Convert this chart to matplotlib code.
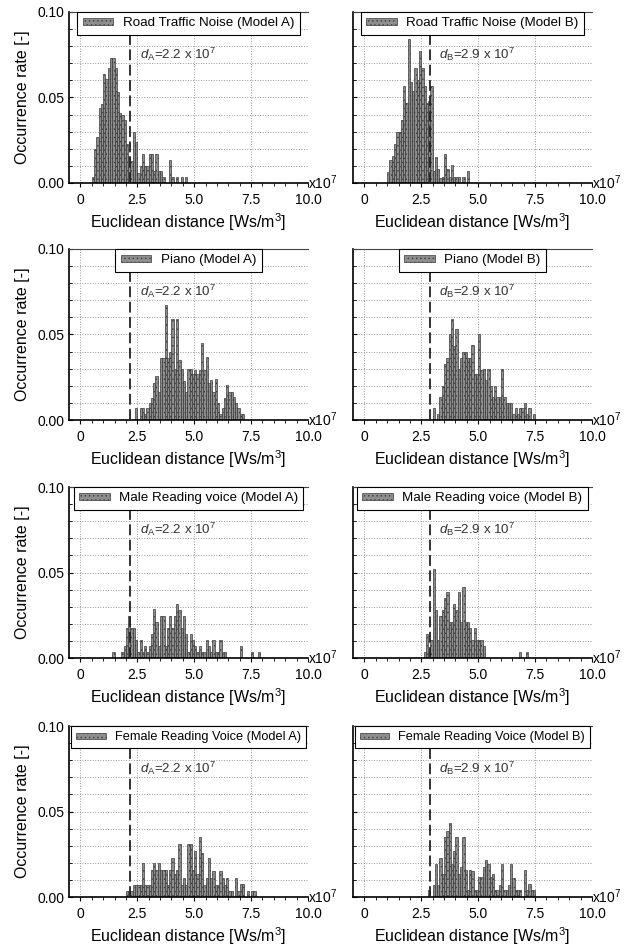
import numpy as np
import matplotlib.pyplot as plt

plt.rcParams['font.family'] = ['Liberation Sans', 'DejaVu Sans']
plt.rcParams['mathtext.fontset'] = 'custom'
plt.rcParams['mathtext.rm'] = 'Liberation Sans'
plt.rcParams['mathtext.it'] = 'Liberation Sans:italic'
plt.rcParams['hatch.linewidth'] = 0.5

BIN = 0.1      # histogram bin width [x10^7 Ws/m^3]
D_A = 2.2      # threshold distance, model A
D_B = 2.9      # threshold distance, model B

# occurrence rate per bin, first bin starts at *_start
road_a_start = 0.5
road_a = [0.0035, 0.020, 0.027, 0.044, 0.046, 0.064, 0.061, 0.067, 0.073, 0.073,
          0.067, 0.053, 0.041, 0.040, 0.037, 0.023, 0.016, 0.013, 0.030, 0.024,
          0.006, 0.010, 0.017, 0.010, 0.010, 0.017, 0.017, 0.007, 0.017, 0.007,
          0.007, 0.0035, 0.0, 0.0, 0.0135, 0.0035, 0.0, 0.0035, 0.0, 0.0035,
          0.0, 0.0035]

road_b_start = 1.0
road_b = [0.0066, 0.0135, 0.016, 0.023, 0.030, 0.030, 0.037, 0.057, 0.047, 0.084,
          0.059, 0.054, 0.067, 0.060, 0.077, 0.067, 0.057, 0.047, 0.048, 0.057,
          0.007, 0.015, 0.008, 0.003, 0.0035, 0.017, 0.008, 0.0035, 0.0105, 0.0035,
          0.0035, 0.0035, 0.0, 0.0035, 0.0, 0.007]

piano_a_start = 2.4
piano_a = [0.007, 0.0, 0.007, 0.007, 0.0035, 0.007, 0.010, 0.013, 0.0215, 0.026,
           0.0165, 0.036, 0.036, 0.067, 0.036, 0.040, 0.059, 0.030, 0.059, 0.035,
           0.030, 0.023, 0.0165, 0.030, 0.030, 0.027, 0.0295, 0.027, 0.0295, 0.045,
           0.0295, 0.037, 0.0215, 0.0235, 0.0165, 0.024, 0.010, 0.0035, 0.007, 0.013,
           0.0205, 0.0165, 0.0165, 0.0135, 0.010, 0.007, 0.0035, 0.0035]

piano_b_start = 3.0
piano_b = [0.007, 0.0, 0.0035, 0.0135, 0.020, 0.033, 0.036, 0.050, 0.059, 0.0435,
           0.053, 0.030, 0.036, 0.040, 0.040, 0.036, 0.036, 0.044, 0.027, 0.027,
           0.050, 0.0295, 0.030, 0.0235, 0.030, 0.020, 0.0135, 0.020, 0.0135, 0.0135,
           0.030, 0.0135, 0.010, 0.010, 0.010, 0.0035, 0.007, 0.0035, 0.007, 0.007,
           0.010, 0.0035, 0.007, 0.0, 0.0035]

male_a_start = 1.4
male_a = [0.0035, 0.0, 0.0, 0.0, 0.0035, 0.007, 0.0175, 0.0245, 0.0175, 0.0175,
          0.0105, 0.0035, 0.0105, 0.0035, 0.007, 0.0035, 0.007, 0.014, 0.0285, 0.021,
          0.007, 0.0245, 0.0245, 0.007, 0.0175, 0.0245, 0.0175, 0.0245, 0.0315, 0.028,
          0.0175, 0.0245, 0.014, 0.0035, 0.014, 0.0105, 0.007, 0.0035, 0.007, 0.0035,
          0.0035, 0.0105, 0.007, 0.0035, 0.0105, 0.0035, 0.0035, 0.0105, 0.0035, 0.0035,
          0.0, 0.0, 0.0, 0.0, 0.0, 0.0, 0.007, 0.0, 0.0, 0.0,
          0.0, 0.0035, 0.0, 0.0, 0.0035]

male_b_start = 2.6
male_b = [0.0035, 0.014, 0.0035, 0.0105, 0.052, 0.028, 0.0105, 0.0245, 0.028, 0.035,
          0.0385, 0.021, 0.021, 0.0315, 0.028, 0.0385, 0.021, 0.0415, 0.021, 0.021,
          0.0175, 0.0105, 0.0175, 0.0105, 0.0105, 0.0105, 0.007, 0.0, 0.0, 0.0,
          0.0, 0.0, 0.0, 0.0, 0.0, 0.0, 0.0, 0.0, 0.0, 0.0,
          0.0, 0.0, 0.0035, 0.0, 0.0, 0.0035]

female_a_start = 2.0
female_a = [0.0035, 0.0035, 0.0035, 0.007, 0.007, 0.007, 0.007, 0.020, 0.007, 0.007,
            0.007, 0.0155, 0.020, 0.0155, 0.020, 0.0155, 0.0155, 0.0155, 0.007, 0.0155,
            0.023, 0.0135, 0.0155, 0.031, 0.007, 0.011, 0.007, 0.031, 0.031, 0.0155,
            0.027, 0.0135, 0.035, 0.0255, 0.007, 0.011, 0.023, 0.011, 0.015, 0.007,
            0.007, 0.015, 0.011, 0.007, 0.011, 0.0035, 0.0035, 0.0, 0.011, 0.0035,
            0.0075, 0.0075, 0.0, 0.0035, 0.0, 0.0035, 0.0035]

female_b_start = 2.8
female_b = [0.004, 0.0, 0.007, 0.0195, 0.007, 0.023, 0.0135, 0.035, 0.0385, 0.043,
            0.0195, 0.027, 0.035, 0.0135, 0.0175, 0.035, 0.0155, 0.004, 0.0155, 0.015,
            0.004, 0.004, 0.0115, 0.0115, 0.0175, 0.0215, 0.0195, 0.0115, 0.0135, 0.004,
            0.004, 0.007, 0.0195, 0.004, 0.004, 0.007, 0.0195, 0.011, 0.004, 0.004,
            0.004, 0.0, 0.0155, 0.004, 0.0075, 0.004, 0.004]

panels = [
    ("Road Traffic Noise (Model A)", road_a_start, road_a, "A", D_A),
    ("Road Traffic Noise (Model B)", road_b_start, road_b, "B", D_B),
    ("Piano (Model A)", piano_a_start, piano_a, "A", D_A),
    ("Piano (Model B)", piano_b_start, piano_b, "B", D_B),
    ("Male Reading voice (Model A)", male_a_start, male_a, "A", D_A),
    ("Male Reading voice (Model B)", male_b_start, male_b, "B", D_B),
    ("Female Reading Voice (Model A)", female_a_start, female_a, "A", D_A),
    ("Female Reading Voice (Model B)", female_b_start, female_b, "B", D_B),
]

W, H = 626, 946
fig = plt.figure(figsize=(W / 100, H / 100), dpi=100)
col_x = [69, 353]
row_bottom = [183, 420, 658, 897]
ax_w, ax_h = 239, 171

for i, (label, start, rates, model, d) in enumerate(panels):
    row, col = divmod(i, 2)
    ax = fig.add_axes([col_x[col] / W, 1 - row_bottom[row] / H, ax_w / W, ax_h / H])

    lefts = start + BIN * np.arange(len(rates))
    ax.bar(lefts, rates, width=BIN, align='edge', facecolor='#8e8e8e',
           edgecolor='#3c3c3c', linewidth=0.5, hatch='....', label=label, zorder=2)
    ax.axvline(d, color='#222222', ls=(0, (6, 2.5)), lw=1.3, zorder=3)
    ax.text(d + 0.4, 0.075, f"$d_\\mathrm{{{model}}}$={d} x 10$^7$",
            fontsize=9.6, color='#333333', va='center', zorder=4)

    ax.set_xlim(-0.5, 10)
    ax.set_ylim(0, 0.1)
    ax.set_xticks([0, 2.5, 5, 7.5, 10])
    ax.set_xticklabels(['0', '2.5', '5.0', '7.5', '10.0'])
    ax.set_xticks(np.arange(0, 10.01, 0.5), minor=True)
    ax.set_yticks([0, 0.05, 0.10])
    ax.set_yticks(np.arange(0, 0.101, 0.01), minor=True)
    if col == 0:
        ax.set_yticklabels(['0.00', '0.05', '0.10'])
        ax.set_ylabel("Occurrence rate [-]", fontsize=11.5, labelpad=5)
    else:
        ax.set_yticklabels([])
    ax.tick_params(labelsize=10, direction='in', length=3, width=0.8)
    ax.tick_params(which='minor', direction='in', length=2, width=0.6)
    ax.tick_params(axis='x', which='both', direction='out', pad=4)

    ax.set_axisbelow(True)
    ax.grid(True, axis='x', which='major', ls=':', color='#9a9a9a', lw=0.7)
    ax.grid(True, axis='y', which='both', ls=':', color='#9a9a9a', lw=0.7)

    ax.spines['right'].set_visible(False)
    ax.spines['top'].set_color('#444444')
    ax.spines['top'].set_linewidth(0.8)
    ax.spines['left'].set_linewidth(1.2)
    ax.spines['bottom'].set_linewidth(1.2)

    ax.set_xlabel("Euclidean distance [Ws/m$^3$]", fontsize=11.5, labelpad=3)
    ax.text(1.0, 0.0, "x10$^7$", transform=ax.transAxes, ha='left',
            va='center', fontsize=10)

    # the longer "Female ..." labels are set a touch smaller so the box fits
    leg_size = 9.2 if len(label) > 29 else 9.6
    leg = ax.legend(loc='upper center', borderaxespad=0, fancybox=False,
                    edgecolor='black', framealpha=1, fontsize=leg_size,
                    handlelength=2.3, handleheight=0.35, borderpad=0.4,
                    handletextpad=0.7)
    leg.get_frame().set_linewidth(0.8)
    leg.set_zorder(5)

fig.savefig("out.png", dpi=100, facecolor='white')
